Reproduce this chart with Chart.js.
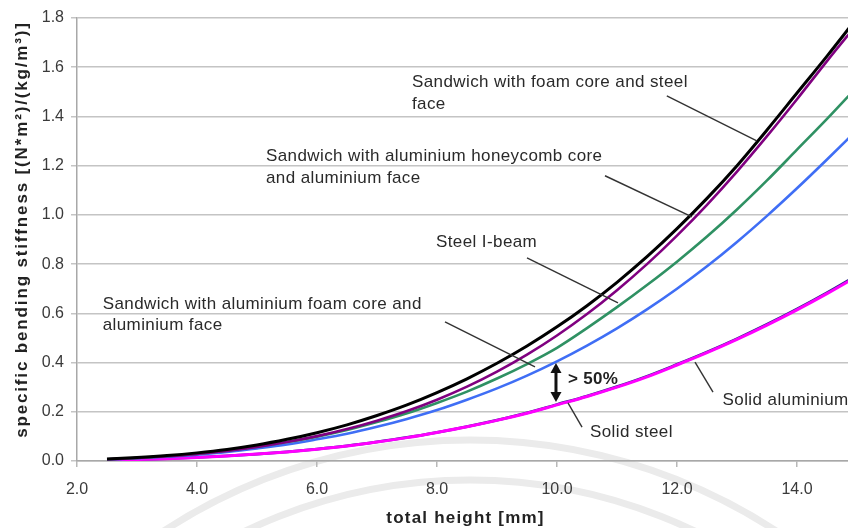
<!DOCTYPE html>
<html><head><meta charset="utf-8">
<script src="https://cdn.jsdelivr.net/npm/chart.js@4/dist/chart.umd.min.js"></script>
<style>html,body{margin:0;padding:0;background:#fff;}#wrap{width:848px;height:528px;position:relative;}</style>
</head><body><div id="wrap"><canvas id="c"></canvas></div>
<script>
// total height [mm]
const heights = [2.5,3,3.5,4,4.5,5,5.5,6,6.5,7,7.5,8,8.5,9,9.5,10,10.5,11,11.5,12,12.5,13,13.5,14,14.5,15];
// specific bending stiffness [(N*m²)/(kg/m³)]
const foamSteelFace = [0.008,0.014,0.022,0.033,0.047,0.065,0.088,0.115,0.147,0.185,0.228,0.278,0.334,0.397,0.467,0.545,0.631,0.726,0.830,0.944,1.067,1.200,1.345,1.495,1.645,1.800];
const honeycombAlu = [0.007,0.012,0.019,0.029,0.041,0.057,0.077,0.101,0.130,0.164,0.203,0.249,0.302,0.363,0.432,0.510,0.597,0.694,0.800,0.916,1.041,1.176,1.320,1.470,1.625,1.775];
const steelIBeam = [0.007,0.012,0.020,0.029,0.042,0.058,0.077,0.099,0.126,0.158,0.194,0.236,0.282,0.335,0.394,0.460,0.540,0.625,0.715,0.810,0.912,1.022,1.140,1.265,1.390,1.520];
const aluFoamAlu = [0.006,0.011,0.017,0.026,0.037,0.051,0.067,0.088,0.111,0.139,0.171,0.207,0.249,0.295,0.347,0.405,0.469,0.539,0.616,0.700,0.791,0.890,0.996,1.108,1.225,1.345];
const solidAluminium = [0.0036,0.0061,0.0096,0.0145,0.0207,0.0283,0.0373,0.0484,0.0615,0.0775,0.0957,0.1168,0.140,0.1662,0.1954,0.2296,0.2638,0.302,0.3443,0.3925,0.4428,0.4971,0.5554,0.6177,0.684,0.7543];
const solidSteel = [0.0035,0.006,0.0095,0.0143,0.0205,0.028,0.037,0.048,0.061,0.077,0.095,0.116,0.139,0.165,0.194,0.228,0.262,0.300,0.342,0.390,0.440,0.494,0.552,0.614,0.680,0.750];
const xTickValues = [2,4,6,8,10,12,14];
const yTickValues = [0,0.2,0.4,0.6,0.8,1.0,1.2,1.4,1.6,1.8];
const xTitle = 'total height [mm]';
const yTitle = 'specific bending stiffness [(N*m²)/(kg/m³)]';

// callout labels, anchored in data units
const callouts = [
  {lines:['Sandwich with foam core and steel','face'], at:[7.583,1.537], from:[11.83,1.484], to:[13.33,1.301]},
  {lines:['Sandwich with aluminium honeycomb core','and aluminium face'], at:[5.15,1.236], from:[10.8,1.159], to:[12.25,0.992]},
  {lines:['Steel I-beam'], at:[7.983,0.89], from:[9.5,0.825], to:[11.017,0.642]},
  {lines:['Sandwich with aluminium foam core and','aluminium face'], at:[2.428,0.638], from:[8.133,0.565], to:[9.633,0.382]},
  {lines:['Solid aluminium'], at:[12.76,0.248], from:[12.3,0.402], to:[12.6,0.28]},
  {lines:['Solid steel'], at:[10.55,0.118], from:[10.183,0.236], to:[10.417,0.138]}
];
const gapArrow = {x:9.983, top:0.398, bottom:0.24, label:'> 50%', labelAt:[10.183,0.333]};

const FONT = "'Liberation Sans', Arial, sans-serif";

const decor = {
  id:'decor',
  beforeDraw(chart){
    const c = chart.ctx;
    c.save();
    c.strokeStyle = '#ebebeb';
    c.lineWidth = 7;
    [560,520].forEach(r=>{ c.beginPath(); c.arc(470,1000,r,0,Math.PI*2); c.stroke(); });
    c.restore();
  },
  afterDatasetsDraw(chart){
    const c = chart.ctx, xs = chart.scales.x, ys = chart.scales.y;
    const px = v=>xs.getPixelForValue(v), py = v=>ys.getPixelForValue(v);
    c.save();
    c.font = '17px ' + FONT;
    c.fillStyle = '#2a2a2a';
    c.textBaseline = 'middle';
    c.textAlign = 'left';
    c.letterSpacing = '0.4px';
    callouts.forEach(a=>{
      a.lines.forEach((t,i)=>c.fillText(t, px(a.at[0]), py(a.at[1]) + i*21.5));
      c.strokeStyle = '#333';
      c.lineWidth = 1.4;
      c.beginPath(); c.moveTo(px(a.from[0]),py(a.from[1])); c.lineTo(px(a.to[0]),py(a.to[1])); c.stroke();
    });
    // double arrow
    const ax = px(gapArrow.x), at = py(gapArrow.top), ab = py(gapArrow.bottom);
    c.strokeStyle = '#111'; c.fillStyle = '#111'; c.lineWidth = 3;
    c.beginPath(); c.moveTo(ax, at+7); c.lineTo(ax, ab-7); c.stroke();
    c.beginPath(); c.moveTo(ax, at); c.lineTo(ax-5.5, at+10); c.lineTo(ax+5.5, at+10); c.closePath(); c.fill();
    c.beginPath(); c.moveTo(ax, ab); c.lineTo(ax-5.5, ab-10); c.lineTo(ax+5.5, ab-10); c.closePath(); c.fill();
    c.font = 'bold 17px ' + FONT;
    c.fillStyle = '#222';
    c.letterSpacing = '0.3px';
    c.fillText(gapArrow.label, px(gapArrow.labelAt[0]), py(gapArrow.labelAt[1]));
    c.restore();
  },
  afterDraw(chart){
    const c = chart.ctx, area = chart.chartArea;
    c.save();
    c.font = 'bold 17px ' + FONT;
    c.fillStyle = '#222';
    c.textAlign = 'center';
    c.textBaseline = 'middle';
    c.letterSpacing = '1.2px';
    c.fillText(xTitle, (area.left+area.right)/2 + 3, chart.height - 10);
    c.translate(22, (area.top+area.bottom)/2 - 10);
    c.rotate(-Math.PI/2);
    c.letterSpacing = '1.85px';
    c.fillText(yTitle, 0, 0);
    c.restore();
  }
};

const mk = (label, data, color, width) => ({
  label, data: heights.map((h,i)=>({x:h, y:data[i]})),
  borderColor: color, backgroundColor: color, borderWidth: width,
  pointRadius: 0, cubicInterpolationMode: 'monotone', fill: false
});

new Chart(document.getElementById('c'), {
  type: 'line',
  data: { datasets: [
    mk('Sandwich with foam core and steel face', foamSteelFace, '#000000', 3),
    mk('Sandwich with aluminium honeycomb core and aluminium face', honeycombAlu, '#800080', 2.6),
    mk('Steel I-beam', steelIBeam, '#2f9163', 2.6),
    mk('Sandwich with aluminium foam core and aluminium face', aluFoamAlu, '#3f6ef5', 2.6),
    mk('Solid steel', solidSteel, '#ff00ff', 3),
    mk('Solid aluminium', solidAluminium, '#2a2a8c', 2.8)
  ]},
  options: {
    responsive: true, maintainAspectRatio: false, animation: false, devicePixelRatio: 1,
    layout: { padding: { top: 18, right: 0, left: 0, bottom: 0 } },
    plugins: { legend: { display: false }, tooltip: { enabled: false } },
    scales: {
      x: {
        type: 'linear', min: 2, max: 14.85,
        afterBuildTicks: s => { s.ticks = xTickValues.map(v=>({value:v})); },
        afterFit: s => { s.height = 67; },
        ticks: { font: { family: FONT, size: 16 }, color: '#3a3a3a', padding: 13, maxRotation: 0,
                 callback: v => Number(v).toFixed(1) },
        grid: { drawOnChartArea: false, drawTicks: true, tickLength: 6, color: '#b8b8b8', lineWidth: 1.5 },
        border: { display: true, color: '#a8a8a8', width: 1.5 }
      },
      y: {
        type: 'linear', min: 0, max: 1.8,
        afterBuildTicks: s => { s.ticks = yTickValues.map(v=>({value:v})); },
        afterFit: s => { s.width = 77; },
        ticks: { font: { family: FONT, size: 16 }, color: '#3a3a3a', padding: 7,
                 callback: v => Number(v).toFixed(1) },
        grid: { color: '#c4c4c4', lineWidth: 1.5, tickLength: 6 },
        border: { display: true, color: '#a8a8a8', width: 1.5 }
      }
    }
  },
  plugins: [decor]
});
</script></body></html>
